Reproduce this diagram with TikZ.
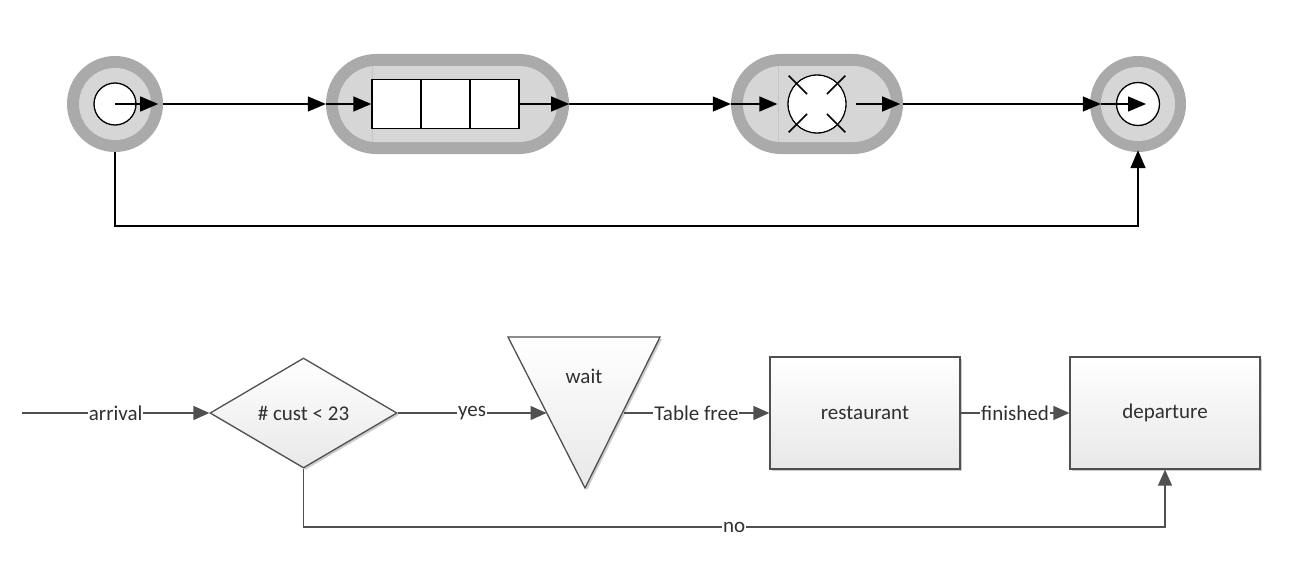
\documentclass[tikz,border=0pt]{standalone}
\usepackage{fontspec}
\setmainfont{Carlito}
\usetikzlibrary{arrows.meta,shapes.geometric,shapes.misc,shadows,calc}
\definecolor{ringdark}{HTML}{AAAAAA}
\definecolor{ringlight}{HTML}{D6D6D6}
\definecolor{ln}{HTML}{505050}
\definecolor{txt}{HTML}{303030}
\definecolor{faint}{HTML}{C6C6C6}
\tikzset{
  tarrow/.style={-{Triangle[length=18pt,width=15pt]}, line width=1.4pt, black},
  tline/.style={line width=1.4pt, black},
  ringouter/.style={fill=ringdark, draw=none, inner sep=0pt},
  ringinner/.style={fill=ringlight, draw=none, inner sep=0pt},
  whitecirc/.style={circle, draw=black, fill=white, line width=1.3pt, inner sep=0pt},
  cellbox/.style={rectangle, draw=black, fill=white, line width=1.3pt, minimum width=49pt, minimum height=49pt, inner sep=0pt},
  flowbox/.style={draw=ln, line width=1.3pt, top color=white, bottom color=black!9,
     drop shadow={shadow xshift=2pt, shadow yshift=-2pt, opacity=0.2, fill=black},
     font=\fontsize{21}{25}\selectfont, text=txt, inner sep=0pt},
  barrow/.style={-{Triangle[length=16pt,width=14pt]}, line width=1.4pt, draw=ln, color=ln},
  lbl/.style={fill=white, inner sep=1pt, font=\fontsize{21}{25}\selectfont, text=txt},
}
\begin{document}
\begin{tikzpicture}[x=1pt,y=-1pt]
\useasboundingbox (0,0) rectangle (1300,578);

% ---------- top row ----------
% source
\node[circle, ringouter, minimum size=96pt] (srco) at (115,104) {};
\node[circle, ringinner, minimum size=72pt] (srcl) at (srco) {};
\node[whitecirc, minimum size=42pt] (srci) at (srco) {};

% queue
\node[rounded rectangle, ringouter, minimum width=243pt, minimum height=100pt] (qo) at (447.5,104) {};
\node[rounded rectangle, ringinner, minimum width=219pt, minimum height=76pt] (ql) at (qo) {};
\draw[faint, line width=0.8pt] (372,66) -- (372,142);
\node[cellbox] (c1) at (396.5,104) {};
\node[cellbox] (c2) at (445.5,104) {};
\node[cellbox] (c3) at (494.5,104) {};

% server
\node[rounded rectangle, ringouter, minimum width=172pt, minimum height=100pt] (so) at (817,104) {};
\node[rounded rectangle, ringinner, minimum width=148pt, minimum height=76pt] (sl) at (so) {};
\draw[faint, line width=0.8pt] (778,66) -- (778,142);
\node[whitecirc, minimum size=58pt] (srv) at (817,104) {};
\fill[white] (srv.center) circle (28pt);
\foreach \a in {45,135,225,315}
  \draw[line width=1.5pt] ($(srv.center)+(\a:14)$) -- ($(srv.center)+(\a:40)$);

% sink
\node[circle, ringouter, minimum size=96pt] (sinko) at (1138,104) {};
\node[circle, ringinner, minimum size=74pt] (sinkl) at (sinko) {};
\node[whitecirc, minimum size=43pt] (sinki) at (sinko) {};
\coordinate (sinktip) at ($(sinki.center)+(8,0)$);
\coordinate (loopy) at (0,226);

% top connectors
\draw[tarrow, shorten >=5pt] (srci.center) -- (srco.east);
\draw[tarrow] (srco.east) -- (qo.west);
\draw[tarrow] (qo.west) -- (c1.west);
\draw[tarrow] (c3.east) -- (qo.east);
\draw[tarrow] (qo.east) -- (so.west);
\draw[tarrow, shorten >=10pt] (so.west) -- (srv.west);
\draw[tarrow, shorten <=9pt, shorten >=3pt] (srv.east) -- (so.east);
\draw[tarrow] (so.east) -- (sinkl.west);
\draw[tarrow] (sinkl.west) -- (sinktip);
\draw[tarrow, shorten >=-2pt] (srco.south) -- (srco.south |- loopy) -| (sinko.south);

% ---------- bottom row ----------
\coordinate (arrstart) at (22,413);
\coordinate (noy) at (0,527);
\node[flowbox, diamond, minimum width=187pt, minimum height=110pt] (dec) at (303.5,413) {\# cust < 23};
\path[flowbox] (508,337) -- (660,337) -- (585,488) -- cycle;
\node[font=\fontsize{21}{25}\selectfont, text=txt] (wait) at (584,376) {wait};
\coordinate (waitL) at (546.5,413);
\coordinate (waitR) at (623.5,413);
\node[flowbox, rectangle, minimum width=190pt, minimum height=112pt] (rest) at (865,413) {restaurant};
\node[flowbox, rectangle, minimum width=190pt, minimum height=112pt] (dep) at (1165,413) {departure};

\draw[barrow] (arrstart) -- node[lbl] {arrival} (dec.west);
\draw[barrow] (dec.east) -- node[lbl] {yes} (waitL);
\draw[barrow] (waitR) -- node[lbl] {Table free} (rest.west);
\draw[barrow] (rest.east) -- node[lbl] {finished} (dep.west);
\draw[barrow] (dec.south) -- (dec.south |- noy) -- node[lbl] {no} (dep.south |- noy) -- (dep.south);
\end{tikzpicture}
\end{document}
